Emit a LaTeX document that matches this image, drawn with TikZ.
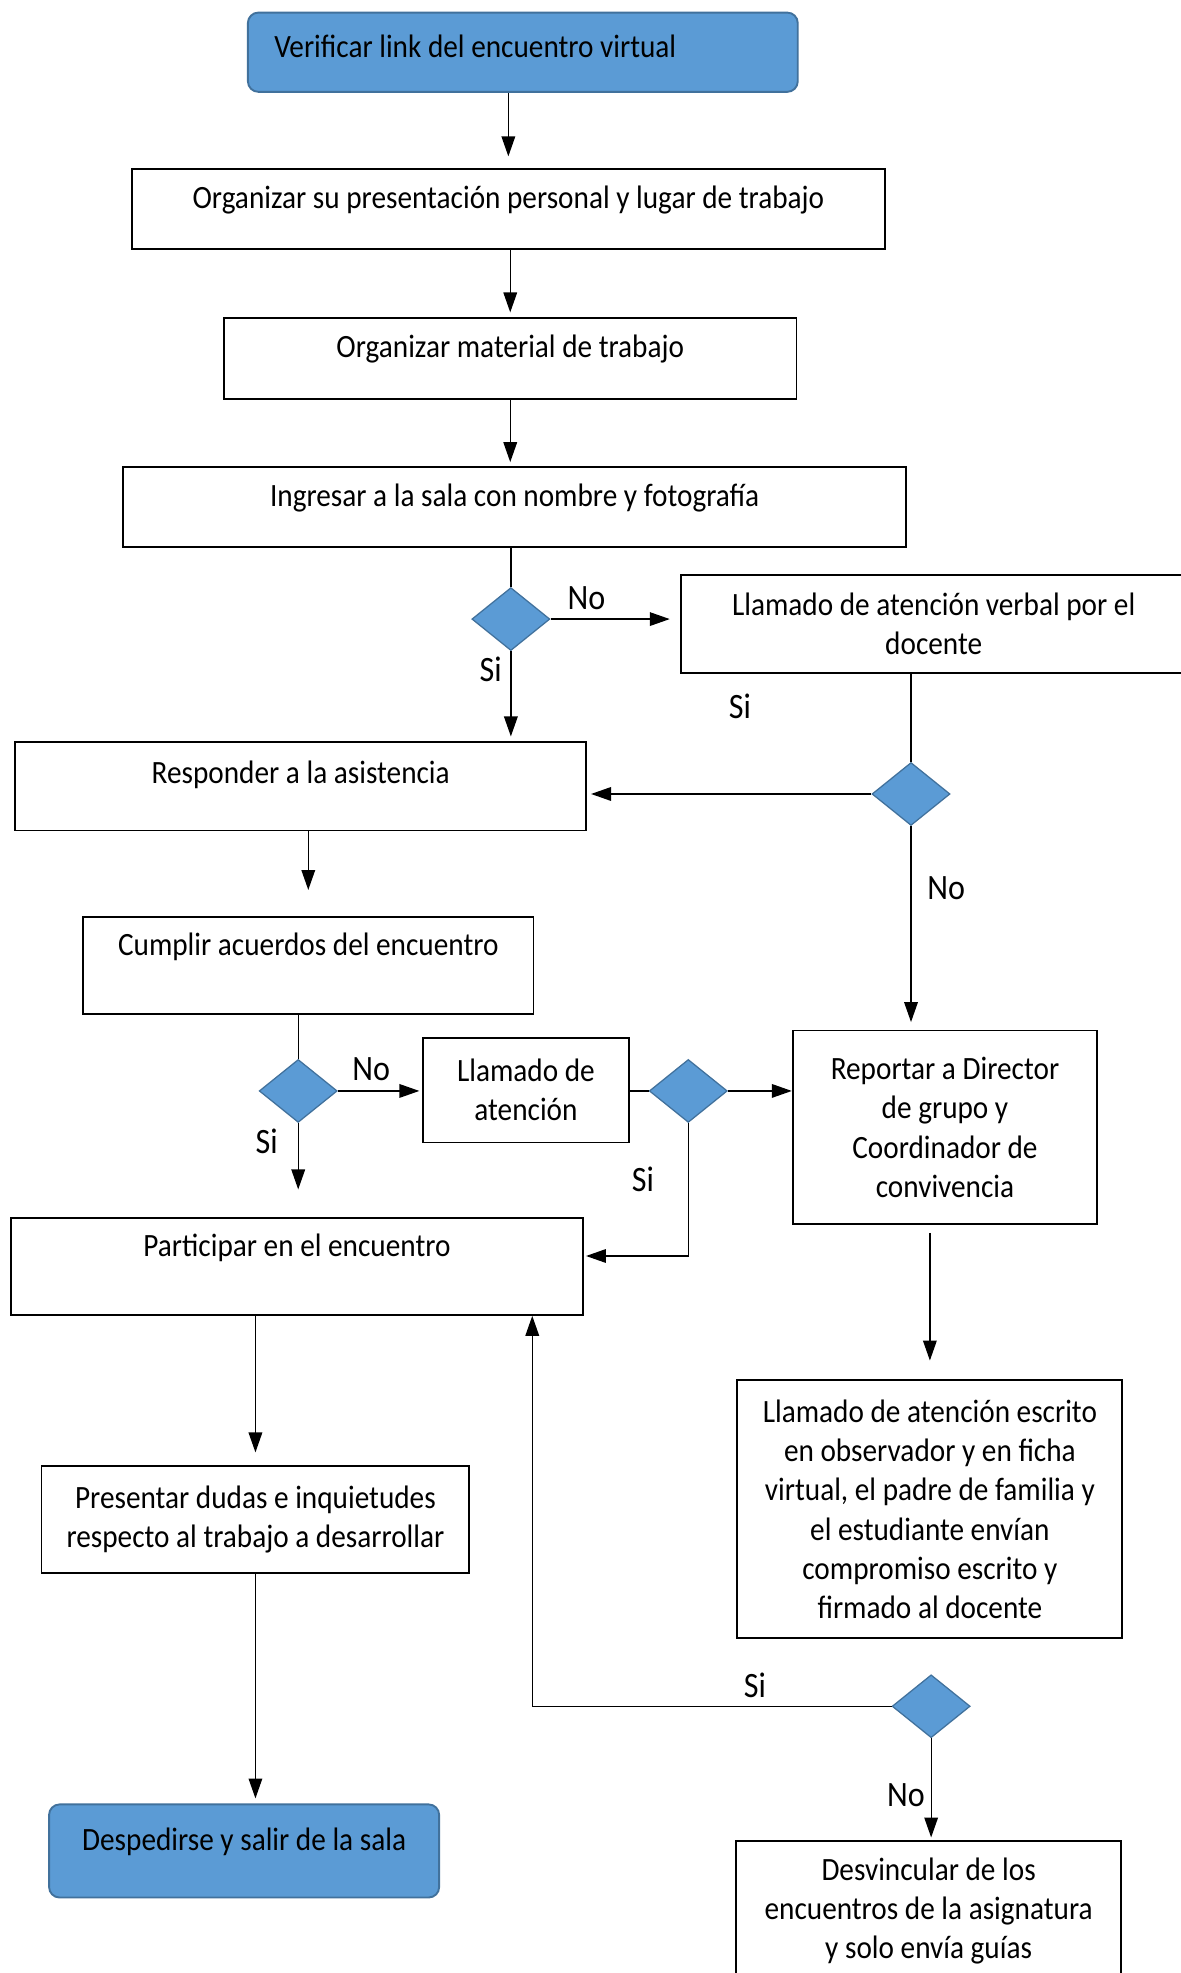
\documentclass[tikz,border=0pt]{standalone}
\usepackage{fontspec}
\setmainfont{Carlito}[FakeStretch=0.9]
\usetikzlibrary{arrows.meta,shapes.geometric}

\definecolor{azul}{HTML}{5B9BD5}
\definecolor{azulborde}{HTML}{41719C}

\tikzset{
  caja/.style={draw, line width=0.9pt, rectangle, align=center, inner sep=0pt,
    font=\fontsize{15.5}{18.6}\selectfont},
  renglon/.style={text height=11pt, text depth=#1},
  extremo/.style={caja, fill=azul, draw=azulborde, rounded corners=5pt},
  decision/.style={diamond, draw=azulborde, fill=azul, line width=0.6pt,
    minimum width=37.2pt, minimum height=30pt, inner sep=0pt},
  flecha/.style={-{Triangle[length=9.5pt,width=6.5pt]}, line width=0.6pt},
  linea/.style={line width=0.6pt},
  etiqueta/.style={font=\fontsize{17}{20}\selectfont, inner sep=0pt}
}

\begin{document}
\begin{tikzpicture}[x=0.6pt, y=-0.6pt]
  \useasboundingbox (0,0) rectangle (938,1568);
  \fill[white] (0,0) rectangle (938,1568);

  % pasos
  \node[extremo, renglon=6pt, minimum width=262.2pt, minimum height=37.8pt,
    text width=237pt, align=flush left] (verificar) at (415.5,41.5) {Verificar link del encuentro virtual};
  \node[caja, renglon=11.6pt, minimum width=358.8pt, minimum height=38.4pt] (presentacion) at (404,166) {Organizar su presentación personal y lugar de trabajo};
  \node[caja, renglon=11.6pt, minimum width=273pt, minimum height=38.4pt] (material) at (405.5,285) {Organizar material de trabajo};
  \node[caja, renglon=11.6pt, minimum width=373.2pt, minimum height=38.4pt] (ingresar) at (409,403) {Ingresar a la sala con nombre y fotografía};
  \node[decision] (sala) at (406,492) {};
  \node[caja, minimum width=241.2pt, minimum height=46.8pt] (verbal) at (742,496) {Llamado de atención verbal por el\\docente};
  \node[caja, renglon=14pt, minimum width=272.4pt, minimum height=42pt] (responder) at (239,625) {Responder a la asistencia};
  \node[decision] (atiende) at (724,631) {};
  \node[caja, renglon=20.6pt, minimum width=214.8pt, minimum height=46.2pt] (cumplir) at (245,767.5) {Cumplir acuerdos del encuentro};
  \node[decision] (acuerdos) at (237,867) {};
  \node[caja, minimum width=98.4pt, minimum height=49.8pt] (llamado) at (418,866.5) {Llamado de\\atención};
  \node[decision] (corrige) at (547,867) {};
  \node[caja, minimum width=145.2pt, minimum height=92.4pt] (reportar) at (751,896) {Reportar a Director\\de grupo y\\Coordinador de\\convivencia};
  \node[caja, renglon=20.6pt, minimum width=272.4pt, minimum height=46.2pt] (participar) at (236,1006.5) {Participar en el encuentro};
  \node[caja, minimum width=183.6pt, minimum height=123pt] (escrito) at (739,1199.5) {Llamado de atención escrito\\en observador y en ficha\\virtual, el padre de familia y\\el estudiante envían\\compromiso escrito y\\firmado al docente};
  \node[caja, minimum width=204pt, minimum height=51pt] (presentar) at (203,1207.5) {Presentar dudas e inquietudes\\respecto al trabajo a desarrollar};
  \node[decision] (compromiso) at (740,1356) {};
  \node[extremo, renglon=11pt, minimum width=186pt, minimum height=44.4pt] (despedirse) at (194,1471) {Despedirse y salir de la sala};
  \node[caja, minimum width=183.6pt, minimum height=67.2pt] (desvincular) at (738,1519) {Desvincular de los\\encuentros de la asignatura\\y solo envía guías};

  % conectores
  \draw[flecha, shorten >=5.4pt] (presentacion.north |- verificar.south) -- (presentacion.north);
  \draw[flecha, shorten >=2.4pt] (material.north |- presentacion.south) -- (material.north);
  \draw[flecha, shorten >=1.8pt] (material.south) -- (material.south |- ingresar.north);
  \draw[linea] (sala.north |- ingresar.south) -- (sala.north);
  \draw[flecha, shorten >=4.8pt] (sala.east) -- (sala.east -| verbal.west);
  \draw[flecha, shorten >=2.4pt] (sala.south) -- (sala.south |- responder.north);
  \draw[linea] (atiende.north |- verbal.south) -- (atiende.north);
  \draw[flecha, shorten >=1.8pt] (atiende.west) -- (atiende.west -| responder.east);
  \draw[flecha, shorten >=3.6pt] (atiende.south) -- (atiende.south |- reportar.north);
  \draw[flecha, shorten >=12.6pt] (cumplir.north |- responder.south) -- (cumplir.north);
  \draw[linea] (acuerdos.north |- cumplir.south) -- (acuerdos.north);
  \draw[flecha, shorten >=1.2pt] (acuerdos.east) -- (llamado.west |- acuerdos.east);
  \draw[flecha, shorten >=13.2pt] (acuerdos.south) -- (acuerdos.south |- participar.north);
  \draw[linea] (llamado.east |- corrige.west) -- (corrige.west);
  \draw[flecha] (corrige.east) -- (corrige.east -| reportar.west);
  \draw[flecha, shorten >=1.2pt] (corrige.south) |- ([yshift=5pt]participar.east);
  \draw[flecha, shorten <=3.6pt, shorten >=9pt] (escrito.north |- reportar.south) -- (escrito.north);
  \draw[flecha, shorten >=6pt] (presentar.north |- participar.south) -- (presentar.north);
  \draw[flecha, shorten >=2.4pt] (presentar.south) -- (presentar.south |- despedirse.north);
  \coordinate (retorno) at (423,1356);
  \draw[flecha] (compromiso.west) -- (retorno) -- (retorno |- participar.south);
  \draw[flecha, shorten >=1.2pt] (compromiso.south) -- (compromiso.south |- desvincular.north);

  % etiquetas
  \node[etiqueta] (noSala) at (466,475) {No};
  \node[etiqueta] (siSala) at (390,532) {Si};
  \node[etiqueta] (siAtiende) at (588,561) {Si};
  \node[etiqueta] (noAtiende) at (752,706) {No};
  \node[etiqueta] (noAcuerdos) at (295,850) {No};
  \node[etiqueta] (siAcuerdos) at (212,907) {Si};
  \node[etiqueta] (siCorrige) at (511,937) {Si};
  \node[etiqueta] (siCompromiso) at (600,1339) {Si};
  \node[etiqueta] (noCompromiso) at (720,1427) {No};
\end{tikzpicture}
\end{document}
